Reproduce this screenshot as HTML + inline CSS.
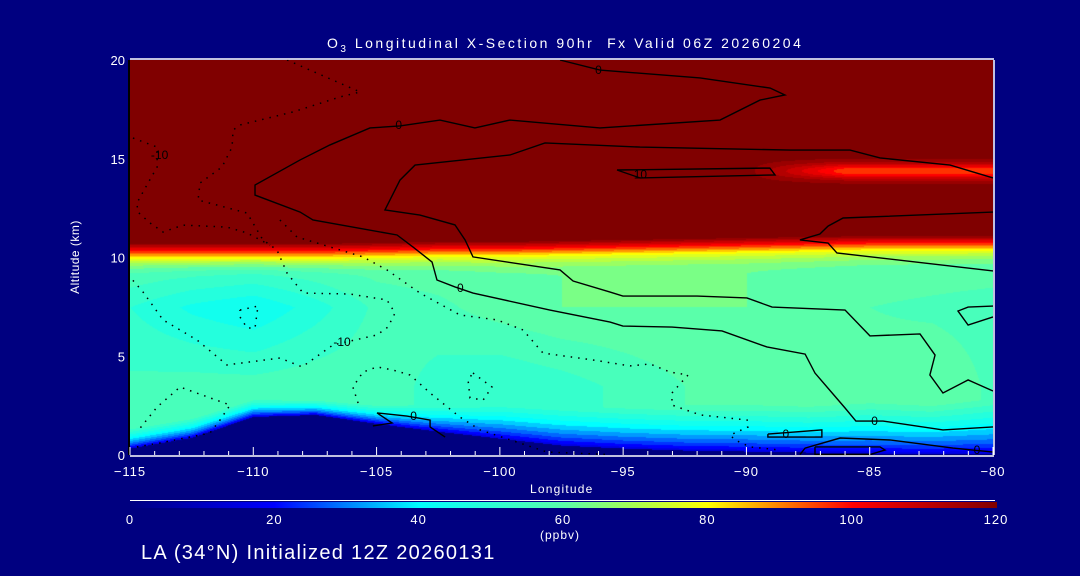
<!DOCTYPE html>
<html><head><meta charset="utf-8">
<style>
body{margin:0;background:#000080;}
#wrap{position:relative;width:1080px;height:576px;background:#000080;overflow:hidden;font-family:"Liberation Sans",sans-serif;color:#fff;}
.t{position:absolute;white-space:nowrap;color:#fff;}
canvas{position:absolute;left:130px;top:60px;}
svg{position:absolute;left:0;top:0;}
</style></head>
<body>
<div id="wrap">
<canvas id="cv" width="863" height="395"></canvas>
<svg id="sv" width="1080" height="576"></svg>
<div class="t" style="left:327px;top:35px;font-size:14px;letter-spacing:2.5px;">O<sub style="font-size:10px">3</sub> Longitudinal X-Section 90hr &nbsp;Fx Valid 06Z 20260204</div>
<div class="t" style="left:530px;top:482px;font-size:12px;letter-spacing:1.2px;">Longitude</div>
<div class="t" style="left:38px;top:250px;font-size:12px;letter-spacing:0.5px;transform:rotate(-90deg);">Altitude (km)</div>
<div class="t" style="left:540px;top:528px;font-size:12px;letter-spacing:1px;">(ppbv)</div>
<div class="t" style="left:141px;top:542px;font-size:20px;letter-spacing:1.3px;">LA (34°N) Initialized 12Z 20260131</div>
</div>
<script>
const lons=[-115,-112.5,-110,-107.5,-105,-102.5,-100,-97.5,-95,-92.5,-90,-87.5,-85,-82.5,-80];
const terrain=[0.35,0.9,1.95,2.05,1.6,1.2,0.85,0.5,0.35,0.25,0.2,0.15,0.1,0.1,0.1];
const tropo=[10.0,10.0,10.0,10.0,10.05,10.1,10.1,10.15,10.2,10.25,10.3,10.35,10.4,10.4,10.4];
const upperO3=[50,45,42,48,55,57,60,62,62,62,62,60,58,57,56];
const lowerO3=[55,56,56,57,57,52,50,52,55,58,60,62,60,62,57];
const surfDepth=[1.0,1.0,0.9,0.8,1.0,1.3,1.6,1.9,2.1,2.3,2.5,2.6,2.7,2.7,2.7];
const xTicks=[-115,-110,-105,-100,-95,-90,-85,-80];
const yTicks=[0,5,10,15,20];
const cbTicks=[0,20,40,60,80,100,120];
const contourSolid=[
 [[-97.56,20],[-95.94,19.49],[-91.88,19.09],[-89.04,18.58],[-88.44,18.23],[-89.45,17.97],[-91.07,16.96],[-95.94,16.56],[-99.59,16.96],[-101.01,16.56],[-102.43,16.96],[-104.05,16.66],[-105.27,16.56],[-106.89,15.70],[-108.10,14.94],[-109.93,13.67],[-109.93,13.16],[-108.10,12.30],[-107.58,11.90],[-104.17,11.14],[-103.52,10.53],[-102.75,9.77],[-102.55,8.86],[-101.82,8.51],[-101.09,8.20],[-97.97,7.34],[-95.53,6.73],[-95.01,6.53],[-93.02,6.48],[-90.99,6.28],[-89.17,5.47],[-87.62,5.11],[-87.22,4.15],[-86.00,2.38],[-85.56,1.72],[-84.46,1.72],[-82.03,1.27],[-80,1.42]],
 [[-80,14.03],[-81.74,14.68],[-84.58,15.04],[-85.80,15.44],[-88.23,15.44],[-94.32,15.59],[-98.17,15.80],[-99.59,15.19],[-103.44,14.68],[-104.05,13.92],[-104.66,12.41],[-103.24,12.15],[-101.82,11.65],[-101.41,10.89],[-101.09,10.03],[-97.56,9.37],[-97.03,8.81],[-95.53,8.25],[-95.01,8.05],[-92.00,8.05],[-89.98,7.95],[-88.96,7.49],[-86.00,7.34],[-84.99,6.03],[-82.96,6.13],[-82.35,5.06],[-82.56,4.05],[-82.03,3.14],[-81.01,3.80],[-80,3.24]],
 [[-80,12.30],[-86.08,12.0],[-86.69,11.59],[-87.02,11.19],[-87.83,10.89],[-86.69,10.73],[-86.33,10.23],[-80,9.32]],
 [[-95.25,14.43],[-89.05,14.53],[-88.84,14.18],[-94.32,14.03],[-95.25,14.43]],
 [[-80,7.54],[-81.01,7.49],[-81.42,7.29],[-81.01,6.58],[-80,6.99]],
 [[-89.13,1.06],[-86.94,1.27],[-86.94,0.91],[-89.13,0.91],[-89.13,1.06]],
 [[-87.22,0.41],[-84.58,0.41],[-84.38,0.25],[-84.99,0.02],[-87.22,0.02],[-87.22,0.41]],
 [[-87.83,0.02],[-87.62,0.35],[-86.2,0.86],[-84.18,0.76],[-81.62,0.35],[-80,0.15]],
 [[-105.15,1.47],[-104.37,1.62],[-104.98,2.13],[-103.77,1.97],[-102.83,1.77],[-102.83,1.42],[-102.22,0.91]]
];
const contourDotted=[
 [[-108.63,20],[-105.67,18.38],[-106.48,18.13],[-108.39,17.37],[-110.54,16.71],[-110.82,16.45],[-110.86,15.59],[-111.27,14.58],[-112.16,13.77],[-112.24,12.91],[-110.25,12.25],[-109.61,10.89],[-109.04,10.38],[-108.63,9.21],[-107.98,8.20],[-106.08,8.15],[-104.58,7.85],[-104.25,7.19],[-104.54,6.48],[-104.98,6.08],[-106.77,5.57],[-108.02,4.46],[-108.92,4.91],[-111.07,4.56],[-112.28,5.82],[-113.66,6.84],[-114.47,8.25],[-115,9.01]],
 [[-114.88,16.05],[-113.9,15.59],[-113.9,14.58],[-114.27,13.77],[-114.72,12.76],[-114.68,12.3],[-114.19,11.75],[-113.66,11.29],[-112.85,11.64],[-111.07,11.54],[-110.25,11.24],[-109.32,10.63]],
 [[-108.92,11.9],[-108.23,11.04],[-105.55,10.03],[-104.58,9.37],[-103.24,8.2],[-101.62,7.09],[-100.11,6.84],[-99.06,6.33],[-98.25,5.16],[-96.22,4.81],[-94.72,4.51],[-93.91,4.61],[-93.1,4.2],[-92.37,4.05],[-93.02,3.14],[-93.02,2.53],[-91.88,2.03],[-89.97,1.77],[-89.93,1.42],[-90.66,1.01],[-90.46,0.76],[-89.85,0.41],[-88.63,0.25]],
 [[-105.75,2.63],[-105.96,3.44],[-105.55,4.2],[-104.98,4.46],[-104.33,4.3],[-103.64,4.05],[-102.83,3.14],[-101.62,1.92],[-100.8,1.27],[-98.09,0.15],[-95.53,0.02]],
 [[-114.72,0.41],[-113.78,0.61],[-111.76,1.11],[-111.35,1.77],[-110.94,2.53],[-112.97,3.44],[-113.9,2.43],[-114.72,1.16]],
 [[-101.09,4.15],[-100.32,3.44],[-100.68,2.78],[-101.21,2.89],[-101.29,3.8],[-101.09,4.15]],
 [[-110.54,7.34],[-109.81,7.54],[-109.93,6.43],[-110.25,6.43],[-110.54,6.99],[-110.54,7.34]]
];
const contourLabels=[[-96.0,19.5,'0'],[-104.1,16.7,'0'],[-113.8,15.2,'-10'],[-94.3,14.2,'10'],[-101.6,8.45,'0'],[-106.4,5.72,'-10'],[-103.5,1.97,'0'],[-84.8,1.72,'0'],[-88.4,1.06,'0'],[-80.65,0.25,'0']];
const X0=130,X1=993,Y0=455,Y1=60;
const xs=l=>X0+(l+115)/35*(X1-X0);
const ys=a=>Y0-a/20*(Y0-Y1);
function interp(arr,l){let i=Math.min(13,Math.max(0,Math.floor((l+115)/2.5)));const f=(l-lons[i])/2.5;return arr[i]+(arr[i+1]-arr[i])*Math.max(0,Math.min(1,f));}
const stops=[[0,[0,0,128]],[20,[0,0,255]],[40,[0,255,255]],[60,[90,255,170]],[70,[170,255,80]],[80,[255,255,0]],[100,[255,0,0]],[120,[128,0,0]]];
function cmap(v){v=Math.max(0,Math.min(120,v));for(let i=0;i<stops.length-1;i++){const a=stops[i],b=stops[i+1];if(v<=b[0]){const f=(v-a[0])/(b[0]-a[0]);return a[1].map((c,k)=>Math.round(c+(b[1][k]-c)*f));}}return stops[7][1];}
function field(l,z){const t=interp(terrain,l);if(z<t)return 0;
 const up=interp(upperO3,l),lo=interp(lowerO3,l),tp=interp(tropo,l),sd=interp(surfDepth,l);
 let f=Math.max(0,Math.min(1,(z-3.5)/4));let m=lo+(up-lo)*f;
 if(z>7.5){const g=Math.min(1,(z-7.5)/1.5);m=up+(62-up)*g*0.5;}
 const d=z-t;let v=m;
 if(d<sd){const s=d/sd;v=14+(m-14)*Math.pow(s,0.75);}
 const h=z-tp;
 if(h>=0)v=80+40*Math.min(1,h/0.75);
 else if(h>-1.1){const q=1+h/1.1;v=v+(80-v)*q*q;}
 if(l>-90){const r=Math.min(1,(l+90)/4);v-=25*r*Math.exp(-Math.pow((z-14.4)/0.4,2));}
 return v;}
const cv=document.getElementById('cv'),ctx=cv.getContext('2d'),img=ctx.createImageData(863,395);
for(let py=0;py<395;py++){const z=(395-py)/395*20;for(let px=0;px<863;px++){const l=-115+px/863*35;let v=field(l,z);v=v<=0?0:Math.round(v/4)*4;const c=cmap(v);const o=(py*863+px)*4;img.data[o]=c[0];img.data[o+1]=c[1];img.data[o+2]=c[2];img.data[o+3]=255;}}
ctx.putImageData(img,0,0);
const NS='http://www.w3.org/2000/svg',sv=document.getElementById('sv');
function mk(tag,at){const e=document.createElementNS(NS,tag);for(const k in at)e.setAttribute(k,at[k]);sv.appendChild(e);return e;}
let e;
contourSolid.forEach(c=>{e=mk('polyline',{points:c.map(p=>xs(p[0])+','+ys(p[1])).join(' '),fill:'none',stroke:'#000','stroke-width':1.4});

});
contourDotted.forEach(c=>{e=mk('polyline',{points:c.map(p=>xs(p[0])+','+ys(p[1])).join(' '),fill:'none',stroke:'#000','stroke-width':1.5,'stroke-dasharray':'1.5 6'});

});
contourLabels.forEach(p=>{e=mk('text',{x:xs(p[0]),y:ys(p[1])+4,'font-size':12,fill:'#000','font-family':'Liberation Sans, sans-serif','text-anchor':'middle'});e.textContent=p[2];

});
e=mk('line',{x1:X0,y1:Y1-1,x2:X1+1,y2:Y1-1,stroke:'#fff','stroke-width':1.5});


e=mk('line',{x1:X1+1,y1:Y1,x2:X1+1,y2:Y0,stroke:'#fff','stroke-width':1.5});


e=mk('line',{x1:X0,y1:Y0+1,x2:X1+1,y2:Y0+1,stroke:'#fff','stroke-width':1.5});


e=mk('line',{x1:X0-1,y1:Y1,x2:X0-1,y2:Y0,stroke:'#000','stroke-width':2});


for(let l=-115;l<=-80;l++){const maj=(l%5===0);e=mk('line',{x1:xs(l),y1:Y0,x2:xs(l),y2:Y0-(maj?8:4),stroke:'#fff','stroke-width':1});

}
xTicks.forEach(l=>{e=mk('text',{x:xs(l),y:Y0+21,'font-size':13,fill:'#fff','font-family':'Liberation Sans, sans-serif','text-anchor':'middle','letter-spacing':'1'});e.textContent=(l<0?'\u2212'+(-l):l);

});
yTicks.forEach(a=>{e=mk('text',{x:X0-5,y:ys(a)+5,'font-size':13,fill:'#fff','font-family':'Liberation Sans, sans-serif','text-anchor':'end'});e.textContent=a;

});
const defs=mk('defs',{});const g=document.createElementNS(NS,'linearGradient');g.setAttribute('id','cbg');defs.appendChild(g);
stops.forEach(s=>{const st=document.createElementNS(NS,'stop');st.setAttribute('offset',(s[0]/120*100)+'%');st.setAttribute('stop-color','rgb('+s[1].join(',')+')');g.appendChild(st);});
e=mk('line',{x1:130,y1:500.5,x2:995,y2:500.5,stroke:'#fff','stroke-width':1});


e=mk('rect',{x:130,y:502,width:867,height:6,fill:'url(#cbg)'});


cbTicks.forEach(v=>{e=mk('text',{x:130+v/120*866,y:524,'font-size':13,fill:'#fff','font-family':'Liberation Sans, sans-serif','text-anchor':'middle','letter-spacing':'1'});e.textContent=v;

});
</script>
</body></html>
